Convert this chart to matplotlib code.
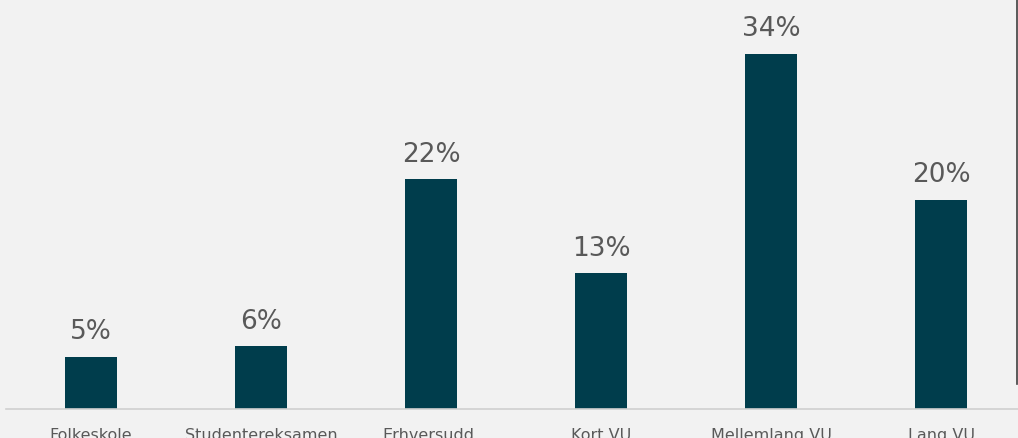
import matplotlib
matplotlib.use('Agg')
import matplotlib.pyplot as plt
from matplotlib.lines import Line2D

categories = ['Folkeskole', 'Studentereksamen', 'Erhversudd.', 'Kort VU', 'Mellemlang VU', 'Lang VU']
values = [5, 6, 22, 13, 34, 20]
labels = ['5%', '6%', '22%', '13%', '34%', '20%']

W, H = 1018, 439
fig = plt.figure(figsize=(W / 100, H / 100), dpi=100, facecolor='#f2f2f2')
# axes spans 6 category slots of 170 px each, starting at x=6; baseline at y=410
ax = fig.add_axes([6 / W, (H - 410) / H, 1020 / W, 410 / H])
ax.set_facecolor('#f2f2f2')

x = range(len(categories))
ax.bar(x, values, width=52 / 170, color='#003d4c')
for i, (v, t) in enumerate(zip(values, labels)):
    ax.annotate(t, (i, v), xytext=(0, 9), textcoords='offset points', ha='center', va='bottom',
                fontsize=19, color='#595959')

ax.set_xlim(-0.5, 5.5)
ax.set_ylim(0, 410 / 10.45)
ax.set_xticks(list(x))
ax.set_xticklabels(categories, fontsize=11.5, color='#595959')
ax.tick_params(axis='x', length=0, pad=13)
ax.set_yticks([])
for s in ('top', 'right', 'left'):
    ax.spines[s].set_visible(False)
ax.spines['bottom'].set_color('#d0d0d0')
ax.spines['bottom'].set_linewidth(1.2)

fig.add_artist(Line2D([1016.5 / W, 1016.5 / W], [(H - 385) / H, 1], transform=fig.transFigure,
                      color='#404040', lw=1.2))

fig.savefig('out.png', dpi=100, facecolor=fig.get_facecolor())
